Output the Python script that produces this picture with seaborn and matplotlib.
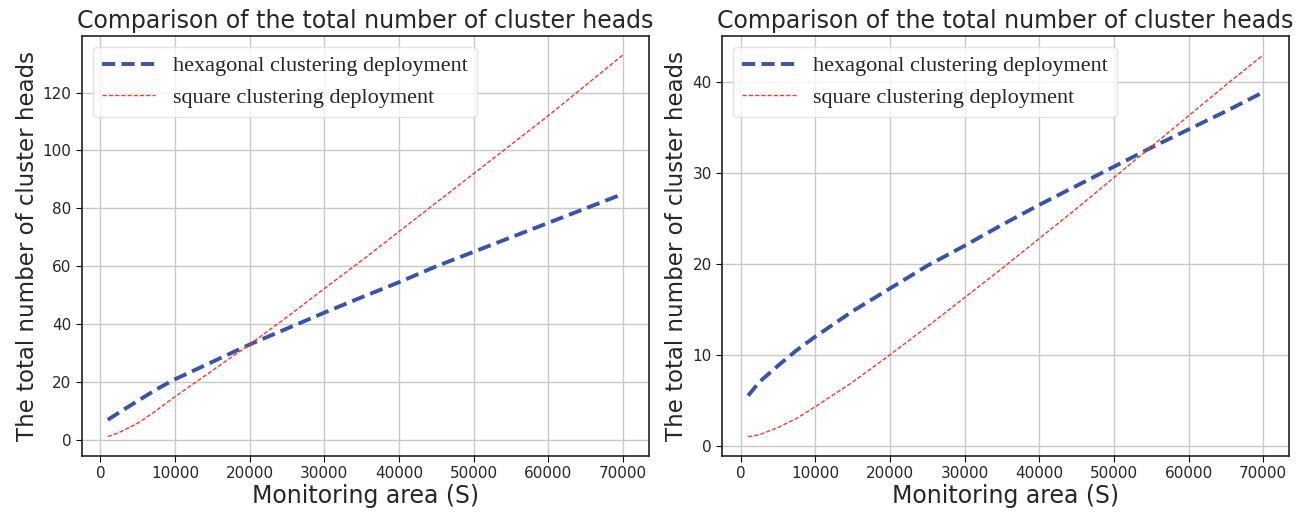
import matplotlib
matplotlib.use("Agg")
import matplotlib.pyplot as plt
import seaborn as sns
import pandas as pd

area = [1000, 2500, 5000, 7500, 10000, 15000, 20000, 25000, 30000, 35000,
        40000, 45000, 50000, 55000, 60000, 65000, 70000]

left_hex = [7, 9.5, 13.5, 17.5, 21, 27, 33, 38.5, 44, 49.3, 54.5, 60, 65, 70, 75, 80, 85]
left_square = [1.2, 2.6, 5.8, 10.2, 15, 24, 33, 42.5, 52.3, 62, 72, 82, 92, 102, 112, 122.5, 133]

right_hex = [5.5, 7, 8.8, 10.5, 12, 14.8, 17.3, 19.8, 22, 24.3, 26.5, 28.6, 30.7, 32.8, 34.8, 36.8, 38.9]
right_square = [1.0, 1.2, 2.0, 3.0, 4.3, 7.0, 10, 13.1, 16.3, 19.5, 22.8, 26.1, 29.5, 32.9, 36.3, 39.7, 43]

labels = ["hexagonal clustering deployment", "square clustering deployment"]
title = "Comparison of the total number of cluster heads"
xlabel = "Monitoring area (S)"
ylabel = "The total number of cluster heads"

sns.set_style("ticks")
plt.rcParams['font.family'] = ['DejaVu Sans']

fig, axes = plt.subplots(1, 2, figsize=(13.02, 5.12), dpi=100)
fig.subplots_adjust(left=0.063, right=0.99, top=0.93, bottom=0.11, wspace=0.13)

hex_color = "#3b53a6"
sq_color = "#f03a2c"

for ax, h, s, yt in [(axes[0], left_hex, left_square, [0, 20, 40, 60, 80, 100, 120]),
                     (axes[1], right_hex, right_square, [0, 10, 20, 30, 40])]:
    df_h = pd.DataFrame({"x": area, "y": h})
    df_s = pd.DataFrame({"x": area, "y": s})
    sns.lineplot(data=df_h, x="x", y="y", ax=ax, color=hex_color, linewidth=2.8,
                 linestyle=(0, (3.4, 1.6)), label=labels[0])
    sns.lineplot(data=df_s, x="x", y="y", ax=ax, color=sq_color, linewidth=1.0,
                 linestyle=(0, (3, 1.5)), label=labels[1])
    ax.grid(True, color="#c8c8c8", linewidth=1.0)
    ax.set_axisbelow(True)
    ax.set_xticks([0, 10000, 20000, 30000, 40000, 50000, 60000, 70000])
    ax.set_yticks(yt)
    ax.tick_params(labelsize=11, length=4, color="black")
    for sp in ax.spines.values():
        sp.set_color("#222222")
        sp.set_linewidth(1.2)
    ax.set_title(title, fontsize=17)
    ax.set_xlabel(xlabel, fontsize=17, labelpad=2)
    ax.set_ylabel(ylabel, fontsize=16.5, labelpad=3)
    leg = ax.legend(loc="upper left", prop={"family": "Liberation Serif", "size": 16},
                    handlelength=2.4, frameon=True)
    leg.get_frame().set_edgecolor("#dddddd")

fig.savefig("out.png", dpi=100)
